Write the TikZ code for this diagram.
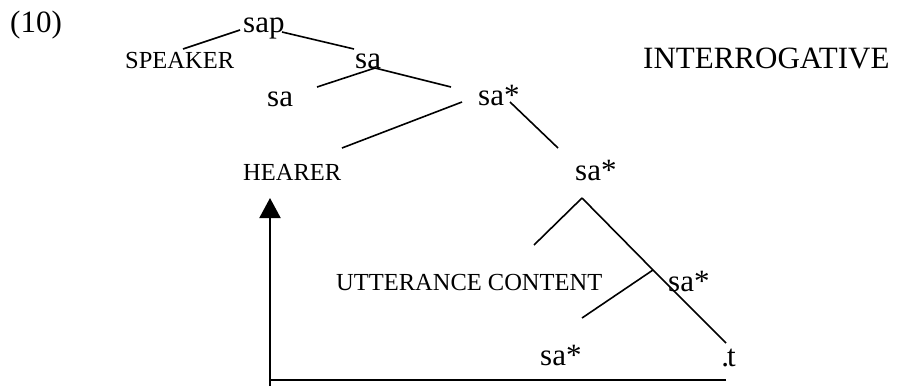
\documentclass[tikz,border=0pt]{standalone}
\usepackage{fontspec}
\setmainfont{Liberation Serif}
\usetikzlibrary{arrows.meta}
\begin{document}
\begin{tikzpicture}[x=1pt,y=-1pt,
  big/.style={inner sep=0pt, anchor=base west, font=\fontsize{31}{36}\selectfont},
  small/.style={inner sep=0pt, anchor=base west, font=\fontsize{24.5}{29}\selectfont},
  branch/.style={line width=1.6pt},
  trace/.style={line width=2pt},
  tracearrow/.style={line width=2pt, -{Triangle[length=20pt,width=21pt]}}]
\useasboundingbox (0,0) rectangle (902,386);

% labels
\node[big]   (num)    at (10,32)   {(10)};
\node[big]   (sap)    at (243,32)  {sap};
\node[small] (spk)    at (125,68)  {SPEAKER};
\node[big]   (saA)    at (355,68)  {sa};
\node[big]   (intg)   at (643,68)  {INTERROGATIVE};
\node[big]   (saB)    at (267,106) {sa};
\node[big]   (saC)    at (478,105) {sa*};
\node[small] (hear)   at (243,180) {HEARER};
\node[big]   (saD)    at (575,180) {sa*};
\node[small] (utt)    at (336,290) {UTTERANCE CONTENT};
\node[big]   (saE)    at (668,291) {sa*};
\node[big]   (saF)    at (540,365) {sa*};
\node[big]   (tr)     at (727,366) {\llap{.\kern-2pt}t};

% branch end points
\coordinate (sapL) at (240,30);
\coordinate (spkT) at (183,49);
\coordinate (sapR) at (282,32);
\coordinate (saAT) at (354,49);
\coordinate (saAB) at (375,68);
\coordinate (saBT) at (317,87);
\coordinate (saCT) at (451,87);
\coordinate (saCL) at (462,102);
\coordinate (hearT) at (342,148);
\coordinate (saCR) at (510,102);
\coordinate (saDT) at (558,148);
\coordinate (apex) at (582,198);
\coordinate (uttT) at (534,245);
\coordinate (knot) at (653,270);
\coordinate (saFT) at (582,318);
\coordinate (trT)  at (726,343);

% tree branches
\draw[branch] (sapL) -- (spkT);
\draw[branch] (sapR) -- (saAT);
\draw[branch] (saAB) -- (saBT);
\draw[branch] (saAB) -- (saCT);
\draw[branch] (saCL) -- (hearT);
\draw[branch] (saCR) -- (saDT);
\draw[branch] (apex) -- (uttT);
\draw[branch] (apex) -- (knot) -- (trT);
\draw[branch] (knot) -- (saFT);

% movement path back to HEARER
\coordinate (trB)   at (726,380);
\coordinate (corner) at (270,380);
\coordinate (foot)  at (270,386);
\coordinate (hearB) at (270,198);
\draw[trace] (trB) -- (corner);
\draw[tracearrow] (foot) -- (hearB);
\end{tikzpicture}
\end{document}
